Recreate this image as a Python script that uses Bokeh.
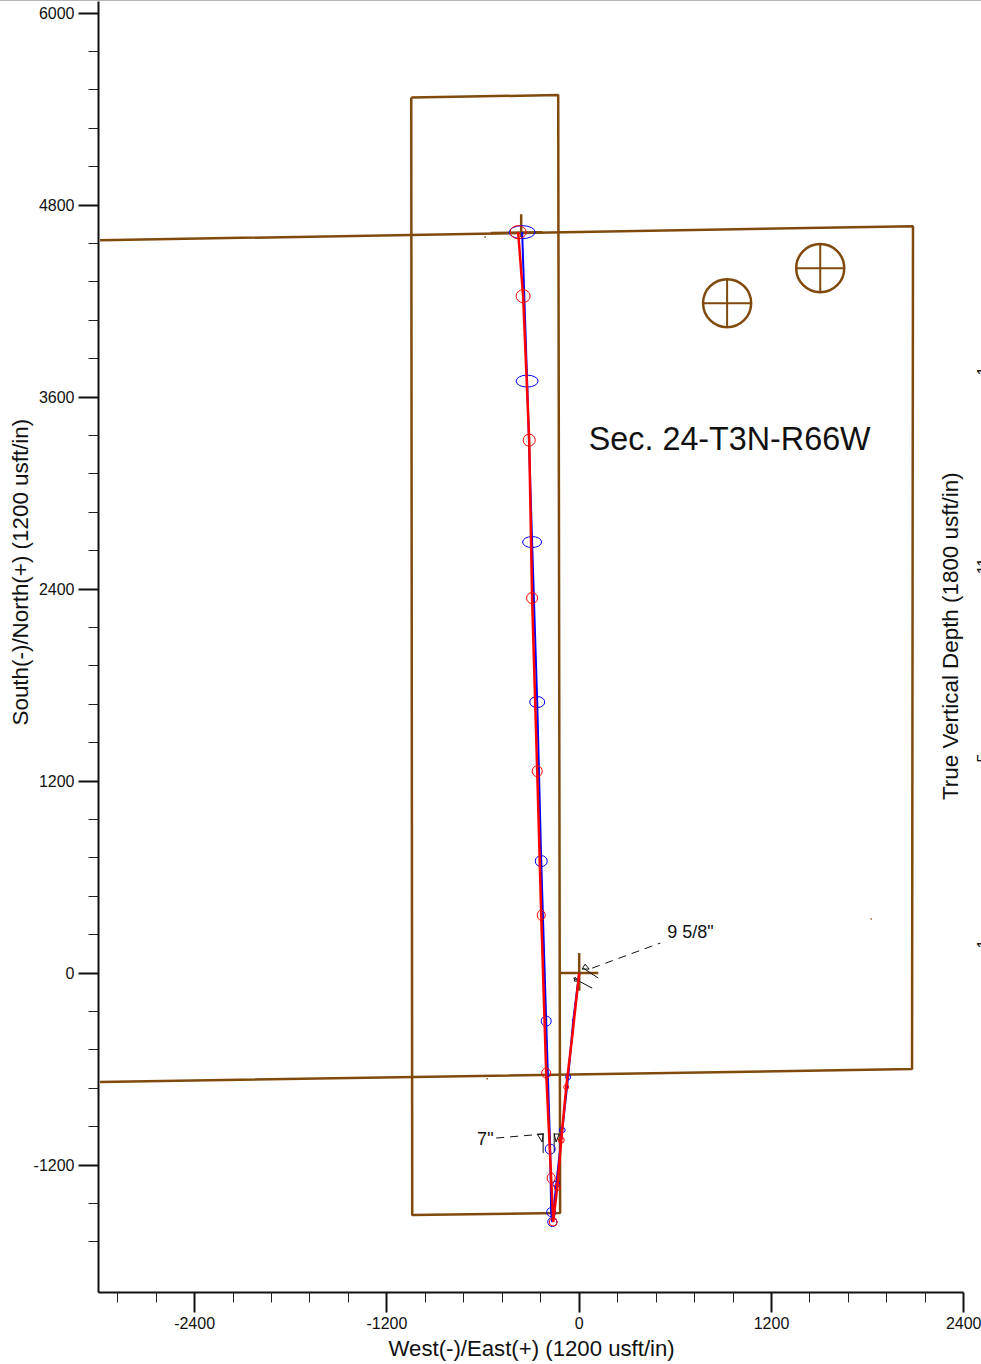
from math import pi
from bokeh.plotting import figure
from bokeh.embed import file_html
from bokeh.resources import INLINE
from bokeh.models import Range1d, FixedTicker, LinearAxis, BoxAnnotation, Title
from bokeh.core.properties import value

# --- data (values in usft) ---
x_major = [-2400, -1200, 0, 1200, 2400]
y_major = [-1200, 0, 1200, 2400, 3600, 4800, 6000]
x_minor = [-2880, -2640, -2160, -1920, -1680, -1440, -960, -720, -480, -240,
           240, 480, 720, 960, 1440, 1680, 1920, 2160]
y_minor = [-1680, -1440, -960, -720, -480, -240, 240, 480, 720, 960, 1440, 1680,
           1920, 2160, 2640, 2880, 3120, 3360, 3840, 4080, 4320, 4560, 5040, 5280, 5520, 5760]

section_x = [-2990, 2083, 2077, -2990]
section_y = [4580, 4668, -600, -681]
hard_x = [-1048, -131, -119, -1042, -1048]
hard_y = [5472, 5488, -1500, -1512, 5472]
well_h_x = [-119, 119]
well_h_y = [0, 0]
well_v_x = [0, 0]
well_v_y = [125, -110]
toe_h_x = [-550, -230]
toe_h_y = [4626, 4630]
toe_v_x = [-362, -362]
toe_v_y = [4743, 4600]
circle_x = [923, 1504]
circle_y = [4187, 4406]
cross_arm = 150
speck_x = [1822, -587, -574]
speck_y = [338, 4600, -660]

plan_x = [0, -37, -69, -106, -143, -168, -175, -181, -206, -237, -262, -294, -325, -356]
plan_y = [0, -294, -650, -981, -1319, -1556, -1494, -1100, -300, 700, 1694, 2694, 3700, 4631]
actual_x = [0, -44, -81, -112, -137, -162, -175, -206, -237, -262, -294, -312, -350, -381]
actual_y = [0, -400, -712, -1044, -1338, -1556, -1281, -625, 362, 1262, 2344, 3331, 4231, 4631]

plan_mark_x = [-37, -69, -106, -143, -168, -175, -181, -206, -237, -262, -294, -325, -356]
plan_mark_y = [-294, -650, -981, -1319, -1556, -1494, -1100, -300, 700, 1694, 2694, 3700, 4631]
plan_mark_w = [2, 5, 6, 7, 9, 9, 10, 10, 12, 15, 19, 22, 26]
plan_mark_h = [2, 5, 5, 6, 9, 9, 10, 10, 11, 11, 11, 12, 13]
actual_mark_x = [-81, -112, -137, -162, -175, -206, -237, -262, -294, -312, -350, -381]
actual_mark_y = [-712, -1044, -1338, -1556, -1281, -625, 362, 1262, 2344, 3331, 4231, 4631]
actual_mark_w = [5, 6, 6, 8, 8, 9, 8, 10, 11, 12, 14, 16]
actual_mark_h = [5, 6, 7, 8, 10, 10, 10, 11, 11, 12, 13, 13]

casing_lines_x = [[25, 119], [-37, 81], [-225, -225], [-156, -156]]
casing_lines_y = [[31, -31], [-31, -94], [-1000, -1125], [-1000, -1119]]
casing_tri_x = [[18, 62, 37], [-31, -6, -25], [-262, -225, -231], [-156, -125, -144]]
casing_tri_y = [[25, 25, 56], [-50, -50, -25], [-1006, -1006, -1056], [-1006, -1006, -1056]]
leader_x = [[81, 506], [-518, -225]]
leader_y = [[31, 188], [-1031, -1006]]

note_texts = ['9 5/8"', '7"']
note_x = [549, -637]
note_y = [256, -1037]
title_text = "Sec. 24-T3N-R66W"
title_pos = (60, 3337)
tvd_title = "True Vertical Depth (1800 usft/in)"
tvd_pos = (2316, 2106)
tvd_labels = ["1", "11", "5", "1"]
tvd_label_y = [3763, 2544, 1344, 181]
tvd_label_x = 2484
x_title = "West(-)/East(+) (1200 usft/in)"
y_title = "South(-)/North(+) (1200 usft/in)"

BROWN = "#7f4a0c"
SX, SY = 0.16025, 0.16
xr = Range1d((98 - 578.7) / SX, (981 - 578.7) / SX)
yr = Range1d((971.6 - 1291) / SY, 971.6 / SY)

p = figure(width=981, height=1364, output_backend="svg", toolbar_location=None,
           x_range=xr, y_range=yr, min_border_left=98, min_border_right=0,
           min_border_top=0, min_border_bottom=73, x_axis_type=None, y_axis_type=None,
           styles={"border-top": "1px solid #b5b5b5"})
p.grid.visible = False
p.outline_line_color = None

def style(ax, ticks, minor):
    ax.ticker = FixedTicker(ticks=ticks, minor_ticks=minor)
    ax.major_label_overrides = {t: str(t) for t in ticks}
    ax.major_label_text_font = "Liberation Sans"
    ax.major_label_text_font_size = "16px"
    ax.major_label_text_color = "#111111"
    ax.major_label_standoff = 4
    ax.axis_line_width = 2
    ax.axis_line_color = "#111111"
    ax.major_tick_line_width = 2
    ax.minor_tick_line_width = 1
    ax.major_tick_line_color = "#111111"
    ax.minor_tick_line_color = "#222222"
    ax.major_tick_out = 20
    ax.major_tick_in = 0
    ax.minor_tick_out = 10
    ax.minor_tick_in = 0

xa = LinearAxis(bounds=(xr.start, 2400))
style(xa, x_major, x_minor)
p.add_layout(xa, "below")
ya = LinearAxis()
style(ya, y_major, y_minor)
p.add_layout(ya, "left")

p.add_layout(Title(text=x_title, align="left", offset=290, text_font="Liberation Sans",
                   text_font_size="22.2px", text_font_style="normal", text_color="#111111",
                   standoff=5), "below")
p.add_layout(Title(text=y_title, align="left", offset=567, text_font="Liberation Sans",
                   text_font_size="22.4px", text_font_style="normal", text_color="#111111",
                   standoff=-5), "left")

for xs, ys in [(section_x, section_y), (hard_x, hard_y), (well_h_x, well_h_y),
               (well_v_x, well_v_y), (toe_h_x, toe_h_y), (toe_v_x, toe_v_y)]:
    p.line(xs, ys, line_color=BROWN, line_width=2.5)

p.circle(circle_x, circle_y, radius=150, fill_color=None, line_color=BROWN, line_width=2.5)
for cx, cy in zip(circle_x, circle_y):
    p.line([cx - cross_arm, cx + cross_arm], [cy, cy], line_color=BROWN, line_width=2)
    p.line([cx, cx], [cy - cross_arm, cy + cross_arm], line_color=BROWN, line_width=2)

for sx, sy in zip(speck_x, speck_y):
    p.add_layout(BoxAnnotation(left=sx - 4, right=sx + 4, bottom=sy - 5, top=sy + 5,
                               fill_color=BROWN, fill_alpha=1, line_color=None))

p.multi_line(leader_x, leader_y, line_color="#111111", line_width=1, line_dash="8 6")
p.multi_line(casing_lines_x, casing_lines_y, line_color="#111111", line_width=1)
p.patches(casing_tri_x, casing_tri_y, fill_color=None, line_color="#111111", line_width=1)

p.line(plan_x, plan_y, line_color="#0000ff", line_width=2)
p.ellipse(plan_mark_x, plan_mark_y, width=plan_mark_w, height=plan_mark_h,
          width_units="screen", height_units="screen",
          fill_color=None, line_color="#0000ff", line_width=1)
p.line(actual_x, actual_y, line_color="#ff0000", line_width=2.5)
p.ellipse(actual_mark_x, actual_mark_y, width=actual_mark_w, height=actual_mark_h,
          width_units="screen", height_units="screen",
          fill_color=None, line_color="#ff0000", line_width=1)

p.text(note_x, note_y, text=note_texts, text_font=value("Liberation Sans"),
       text_font_size="18px", text_color="#111111", text_align="left", text_baseline="middle")
p.text([title_pos[0]], [title_pos[1]], text=[title_text], text_font=value("Liberation Sans"),
       text_font_size="32.3px", text_color="#111111", text_align="left", text_baseline="middle")
p.text([tvd_pos[0]], [tvd_pos[1]], text=[tvd_title], text_font=value("Liberation Sans"),
       text_font_size="22.4px", text_color="#111111", text_align="center", text_baseline="middle",
       angle=pi / 2)
p.text([tvd_label_x] * len(tvd_labels), tvd_label_y, text=tvd_labels, text_font=value("Liberation Sans"),
       text_font_size="16px", text_color="#111111", text_align="center", text_baseline="top",
       angle=pi / 2)

open("out.html", "w").write(file_html(p, INLINE))
